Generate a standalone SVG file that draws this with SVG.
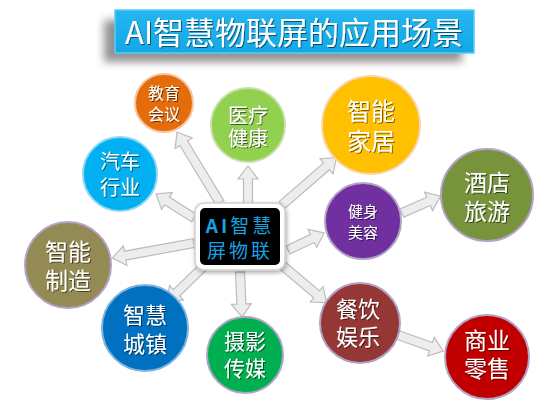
<svg xmlns="http://www.w3.org/2000/svg" width="556" height="409" viewBox="0 0 556 409">
<defs>
<filter id="blur" x="-20%" y="-50%" width="140%" height="200%"><feGaussianBlur stdDeviation="4"/></filter>
<filter id="ts" x="-20%" y="-20%" width="140%" height="140%"><feDropShadow dx="1" dy="1" stdDeviation="0.7" flood-color="#000" flood-opacity="0.55"/></filter>
<filter id="bs" x="-30%" y="-30%" width="160%" height="160%"><feDropShadow dx="1" dy="2" stdDeviation="2" flood-color="#000" flood-opacity="0.35"/></filter>
<linearGradient id="tg" x1="0" y1="0" x2="0" y2="1"><stop offset="0" stop-color="#25B6F0"/><stop offset="1" stop-color="#12A8E6"/></linearGradient>
</defs>
<style>
.lbl{font-family:"Noto Sans CJK SC","Noto Sans",sans-serif;fill:#fff;text-anchor:middle;filter:url(#ts)}
.arr{fill:#EDEDED;stroke:#BDBDBD;stroke-width:1.2;stroke-linejoin:miter}
.c{stroke-width:2}
.pb{stroke:#B3A2C7}
</style>
<g id="title">
<rect x="104" y="20" width="358" height="42" fill="#777" opacity="0.8" filter="url(#blur)"/>
<rect x="115" y="10" width="359" height="43" fill="url(#tg)" stroke="#5CCBF5" stroke-width="1.5"/>
<text x="294" y="44" class="lbl" font-size="31">AI智慧物联屏的应用场景</text>
</g>
<g id="connectors">
<path class="arr" transform="translate(220,203) rotate(-121.2)" d="M0,-4.5H70V-10L83,0L70,10V4.5H0Z"/>
<path class="arr" transform="translate(248,205) rotate(-90)" d="M0,-4.5H26V-10L39,0L26,10V4.5H0Z"/>
<path class="arr" transform="translate(194,218) rotate(-147.7)" d="M0,-4.5H32V-10L45,0L32,10V4.5H0Z"/>
<path class="arr" transform="translate(282,205) rotate(-41)" d="M0,-4.5H59V-10L72,0L59,10V4.5H0Z"/>
<path class="arr" transform="translate(288,250) rotate(-25.3)" d="M0,-4.5H27V-10L40,0L27,10V4.5H0Z"/>
<path class="arr" transform="translate(402,213) rotate(-23.6)" d="M0,-4.5H29V-10L42,0L29,10V4.5H0Z"/>
<path class="arr" transform="translate(194,243) rotate(169.6)" d="M0,-4.5H70V-10L83,0L70,10V4.5H0Z"/>
<path class="arr" transform="translate(203,267) rotate(135.8)" d="M0,-4.5H37V-10L50,0L37,10V4.5H0Z"/>
<path class="arr" transform="translate(240,272) rotate(87.5)" d="M0,-4.5H32V-10L45,0L32,10V4.5H0Z"/>
<path class="arr" transform="translate(283,266) rotate(40.1)" d="M0,-4.5H44V-10L57,0L44,10V4.5H0Z"/>
<path class="arr" transform="translate(398,335) rotate(19.6)" d="M0,-4.5H35V-10L48,0L35,10V4.5H0Z"/>
</g>
<g id="hub">
<rect x="195" y="203" width="90" height="67" rx="9" fill="#fff" stroke="#D0D0D0" stroke-width="1.5" filter="url(#bs)"/>
<rect x="200" y="208" width="80" height="57" rx="5" fill="#000"/>
<text x="240" y="233" font-family="Noto Sans CJK SC,sans-serif" font-size="19" fill="#17A2E0" text-anchor="middle" letter-spacing="3" font-weight="bold">AI<tspan font-weight="normal">智慧</tspan></text>
<text x="240" y="258" font-family="Noto Sans CJK SC,sans-serif" font-size="19" fill="#17A2E0" text-anchor="middle" letter-spacing="3">屏物联</text>
</g>
<g id="n-jiaoyu">
<circle class="c" cx="164" cy="103" r="29" fill="#E46C0A" stroke="#F8C4A2"/>
<text class="lbl" font-size="16"><tspan x="164" y="99">教育</tspan><tspan x="164" y="120">会议</tspan></text>
</g>
<g id="n-yiliao">
<circle class="c" cx="248" cy="125" r="37" fill="#92D050" stroke="#C9DFA8"/>
<text class="lbl" font-size="20"><tspan x="248" y="123">医疗</tspan><tspan x="248" y="146">健康</tspan></text>
</g>
<g id="n-jiaju">
<circle class="c" cx="371" cy="125" r="49" fill="#FFC000" stroke="#F9D6B4"/>
<text class="lbl" font-size="24"><tspan x="371" y="120">智能</tspan><tspan x="371" y="150">家居</tspan></text>
</g>
<g id="n-jiudian">
<circle class="c pb" cx="487" cy="195" r="46" fill="#77933C"/>
<text class="lbl" font-size="23"><tspan x="487" y="191">酒店</tspan><tspan x="487" y="220">旅游</tspan></text>
</g>
<g id="n-jianshen">
<circle class="c pb" cx="363" cy="221" r="38" fill="#7030A0"/>
<text class="lbl" font-size="15"><tspan x="363" y="217">健身</tspan><tspan x="363" y="238">美容</tspan></text>
</g>
<g id="n-qiche">
<circle class="c" cx="120" cy="174" r="37" fill="#00B0F0" stroke="#8FD6F5"/>
<text class="lbl" font-size="20"><tspan x="120" y="169">汽车</tspan><tspan x="120" y="195">行业</tspan></text>
</g>
<g id="n-zhizao">
<circle class="c pb" cx="68" cy="265" r="43" fill="#948A54"/>
<text class="lbl" font-size="23"><tspan x="68" y="260">智能</tspan><tspan x="68" y="289">制造</tspan></text>
</g>
<g id="n-chengzhen">
<circle class="c" cx="145" cy="328" r="43" fill="#0070C0" stroke="#7FB3DE"/>
<text class="lbl" font-size="22"><tspan x="145" y="323">智慧</tspan><tspan x="145" y="352">城镇</tspan></text>
</g>
<g id="n-sheying">
<circle class="c pb" cx="245" cy="355" r="38" fill="#00B050"/>
<text class="lbl" font-size="21"><tspan x="245" y="349">摄影</tspan><tspan x="245" y="376">传媒</tspan></text>
</g>
<g id="n-canyin">
<circle class="c pb" cx="360" cy="323" r="40" fill="#953735"/>
<text class="lbl" font-size="22"><tspan x="358" y="317">餐饮</tspan><tspan x="358" y="345">娱乐</tspan></text>
</g>
<g id="n-shangye">
<circle class="c pb" cx="487" cy="357" r="42" fill="#C00000"/>
<text class="lbl" font-size="23"><tspan x="487" y="349">商业</tspan><tspan x="487" y="377">零售</tspan></text>
</g>
</svg>
